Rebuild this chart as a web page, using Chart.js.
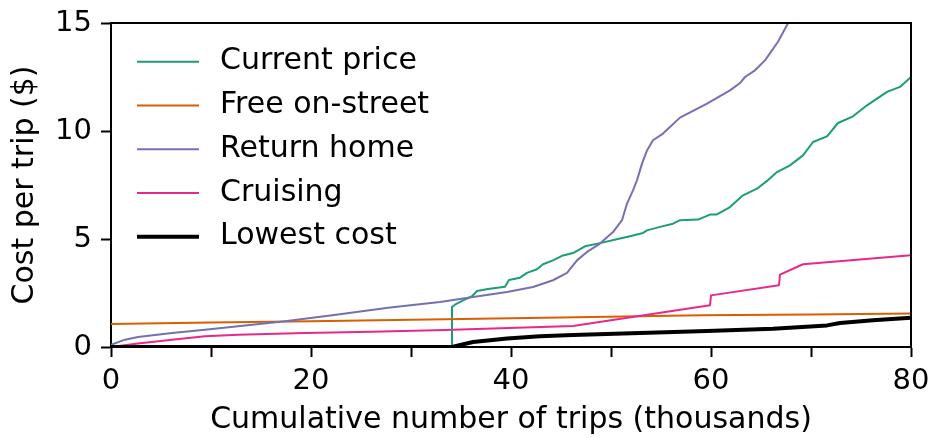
<!DOCTYPE html>
<html>
<head>
<meta charset="utf-8">
<script src="https://cdn.jsdelivr.net/npm/chart.js@4/dist/chart.umd.min.js"></script>
<style>
  html, body { margin: 0; padding: 0; background: #ffffff; }
  canvas { display: block; }
</style>
</head>
<body>
<canvas id="chart" width="931" height="438"></canvas>
<script>
// Cumulative trips (thousands) vs. cost per trip ($) for each parking strategy
const seriesLabels = ['Current price', 'Free on-street', 'Return home', 'Cruising', 'Lowest cost'];

const currentPriceX = [0, 34.1, 34.1, 34.4, 35.2, 36.1, 36.6, 37.7, 39.4, 39.8, 40.9, 41.6, 42.6, 43.2, 44.2, 45.2, 46.2, 47.4, 48.9, 50.9, 51.9, 53.2, 53.6, 54.9, 56.2, 56.9, 58.7, 59.9, 60.6, 61.9, 63.2, 64.6, 65.6, 66.6, 67.9, 69.2, 70.2, 71.6, 72.7, 74.2, 75.6, 77.6, 78.9, 80];
const currentPriceY = [0, 0, 1.85, 1.96, 2.16, 2.35, 2.59, 2.69, 2.79, 3.10, 3.21, 3.43, 3.60, 3.83, 4.01, 4.24, 4.35, 4.66, 4.81, 5.02, 5.13, 5.28, 5.40, 5.56, 5.71, 5.87, 5.90, 6.13, 6.14, 6.48, 7.02, 7.33, 7.69, 8.10, 8.41, 8.87, 9.49, 9.75, 10.37, 10.68, 11.19, 11.81, 12.04, 12.50];

const freeStreetX = [0, 10, 20, 33.4, 45, 59, 70, 80];
const freeStreetY = [1.06, 1.13, 1.19, 1.28, 1.36, 1.47, 1.51, 1.55];

const returnHomeX = [0, 1.4, 2.7, 6.1, 9.4, 12.7, 17.4, 22.7, 27.7, 32.9, 36.2, 39.6, 42.2, 44.2, 45.6, 46.6, 47.6, 48.9, 50.2, 51.1, 51.6, 52.2, 52.6, 53.1, 53.6, 54.2, 55.2, 56.9, 59.6, 61.9, 62.9, 63.4, 64.4, 65.4, 66.7, 67.7, 68.3];
const returnHomeY = [0.10, 0.34, 0.46, 0.65, 0.80, 0.96, 1.19, 1.51, 1.82, 2.08, 2.31, 2.55, 2.78, 3.09, 3.43, 4.01, 4.40, 4.79, 5.32, 5.87, 6.64, 7.25, 7.72, 8.49, 9.10, 9.57, 9.88, 10.62, 11.27, 11.88, 12.22, 12.50, 12.81, 13.27, 14.13, 14.99, 15.80];

const cruisingX = [0, 2.7, 6.1, 9.4, 12.7, 19.4, 26.1, 33.4, 46.2, 59.9, 60.0, 66.8, 66.9, 69.2, 80];
const cruisingY = [0, 0.16, 0.34, 0.50, 0.57, 0.65, 0.71, 0.79, 0.97, 1.93, 2.39, 2.86, 3.35, 3.83, 4.25];

const lowestCostX = [0, 34.1, 36.2, 39.6, 42.9, 46.2, 52.9, 59.6, 66.2, 71.6, 72.9, 76.2, 80];
const lowestCostY = [0, 0, 0.23, 0.39, 0.50, 0.56, 0.65, 0.74, 0.85, 1.00, 1.11, 1.24, 1.36];

const xTicks = [0, 20, 40, 60, 80];      // labelled x ticks (marks every 10)
const yTicks = [0, 5, 10, 15];
const xTitle = 'Cumulative number of trips (thousands)';
const yTitle = 'Cost per trip ($)';

const FONT = '"DejaVu Sans", "Liberation Sans", sans-serif';

function toPoints(xs, ys) {
  return xs.map((x, i) => ({ x: x, y: ys[i] }));
}

const series = [
  { xs: currentPriceX, ys: currentPriceY, color: '#1b9e77', width: 2 },
  { xs: freeStreetX,   ys: freeStreetY,   color: '#d95f02', width: 2 },
  { xs: returnHomeX,   ys: returnHomeY,   color: '#7570b3', width: 2 },
  { xs: cruisingX,     ys: cruisingY,     color: '#e7298a', width: 2 },
  { xs: lowestCostX,   ys: lowestCostY,   color: '#000000', width: 4 }
];

// Top and right spines around the plot area
const framePlugin = {
  id: 'frame',
  afterDatasetsDraw(chart) {
    const { ctx, chartArea: a } = chart;
    ctx.save();
    ctx.strokeStyle = '#000';
    ctx.lineWidth = 2;
    ctx.beginPath();
    ctx.moveTo(a.left, a.top);
    ctx.lineTo(a.right, a.top);
    ctx.lineTo(a.right, a.bottom);
    ctx.stroke();
    ctx.restore();
  }
};

// Legend stacked inside the upper-left corner of the plot
const insideLegend = {
  id: 'insideLegend',
  afterDatasetsDraw(chart) {
    const { ctx, chartArea: a } = chart;
    ctx.save();
    ctx.font = '30px ' + FONT;
    ctx.textBaseline = 'middle';
    ctx.textAlign = 'left';
    ctx.fillStyle = '#000';
    chart.data.datasets.forEach((ds, i) => {
      const y = a.top + 38.7 + i * 43.75;
      ctx.beginPath();
      ctx.moveTo(a.left + 26, y);
      ctx.lineTo(a.left + 88, y);
      ctx.strokeStyle = ds.borderColor;
      ctx.lineWidth = ds.borderWidth;
      ctx.lineCap = 'butt';
      ctx.stroke();
      ctx.fillText(ds.label, a.left + 109, y);
    });
    ctx.restore();
  }
};

new Chart(document.getElementById('chart').getContext('2d'), {
  type: 'line',
  data: {
    datasets: series.map((s, i) => ({
      label: seriesLabels[i],
      data: toPoints(s.xs, s.ys),
      borderColor: s.color,
      backgroundColor: s.color,
      borderWidth: s.width,
      borderJoinStyle: 'round',
      pointRadius: 0,
      tension: 0,
      fill: false,
      order: series.length - i
    }))
  },
  options: {
    responsive: false,
    animation: false,
    devicePixelRatio: 1,
    events: [],
    layout: { padding: { top: 23, right: 20, bottom: 0, left: 0 } },
    plugins: {
      legend: { display: false },
      tooltip: { enabled: false }
    },
    scales: {
      x: {
        type: 'linear',
        min: 0,
        max: 80,
        afterFit(scale) {
          scale.height = 91;
          scale.paddingLeft = 0;
          scale.paddingRight = 0;
        },
        ticks: {
          stepSize: 10,
          autoSkip: false,
          maxRotation: 0,
          padding: 7,
          color: '#000',
          font: { family: FONT, size: 29 },
          callback: (v) => (xTicks.includes(v) ? String(v) : '')
        },
        grid: { drawOnChartArea: false, drawTicks: true, tickLength: 10, tickWidth: 2, tickColor: '#000' },
        border: { display: true, color: '#000', width: 2 },
        title: {
          display: true,
          text: xTitle,
          color: '#000',
          font: { family: FONT, size: 30 },
          padding: { top: 0, bottom: 0 }
        }
      },
      y: {
        type: 'linear',
        min: 0,
        max: 15,
        afterFit(scale) {
          scale.width = 111;
          scale.paddingTop = 0;
          scale.paddingBottom = 0;
        },
        ticks: {
          stepSize: 5,
          autoSkip: false,
          padding: 9,
          color: '#000',
          font: { family: FONT, size: 29 },
          callback: (v) => (yTicks.includes(v) ? String(v) : null)
        },
        grid: { drawOnChartArea: false, drawTicks: true, tickLength: 10, tickWidth: 2, tickColor: '#000' },
        border: { display: true, color: '#000', width: 2 },
        title: {
          display: true,
          text: yTitle,
          color: '#000',
          font: { family: FONT, size: 30 },
          padding: { top: 7, bottom: 0 }
        }
      }
    }
  },
  plugins: [framePlugin, insideLegend]
});
</script>
</body>
</html>
